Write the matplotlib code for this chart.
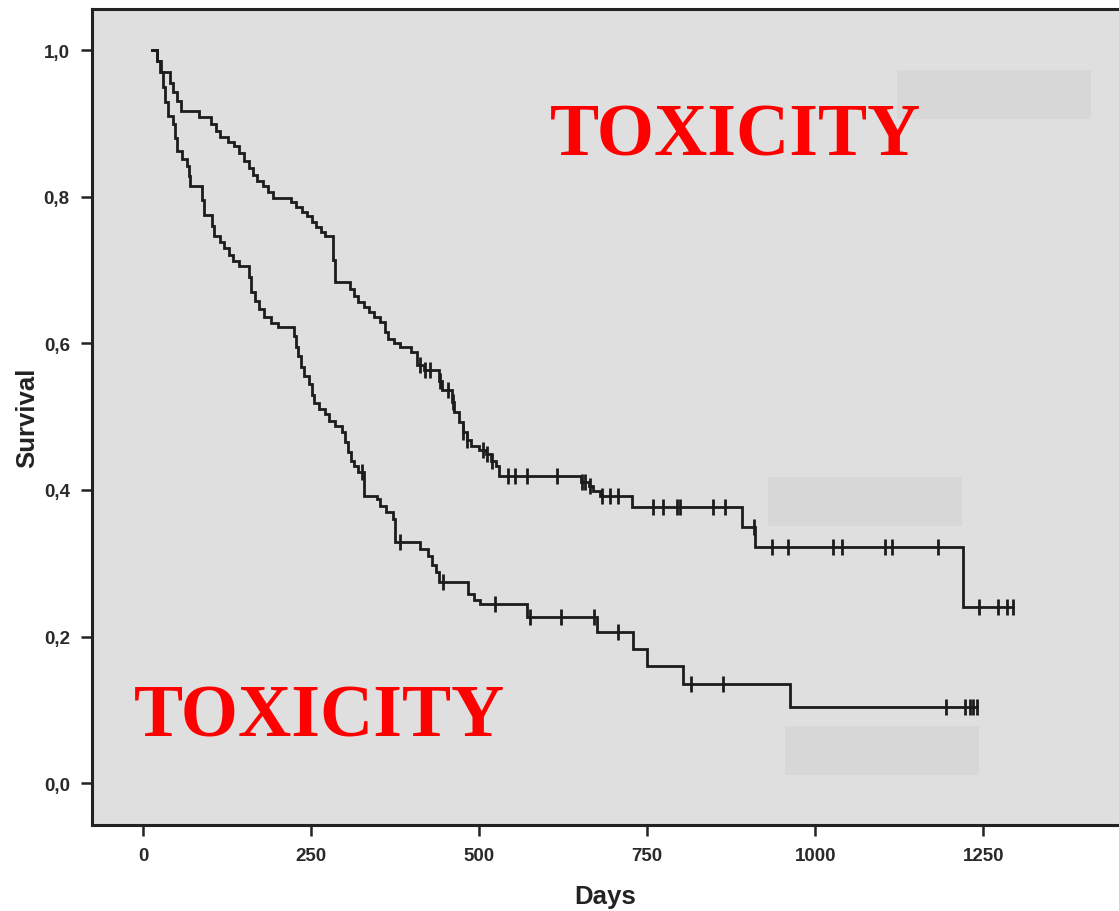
import numpy as np
import matplotlib
matplotlib.use("Agg")
import matplotlib.pyplot as plt
from matplotlib.patches import Rectangle
from matplotlib.ticker import FuncFormatter

# Kaplan-Meier estimates, upper group: day of each drop and survival after it
upper_start = 14
upper_end = 1295
upper_days = [20, 26, 40, 45, 50, 56, 83, 101, 108, 115, 126, 135, 142, 150, 157, 163,
              170, 178, 186, 194, 220, 228, 236, 244, 251, 258, 264, 270, 283, 286,
              308, 314, 320, 328, 336, 344, 352, 360, 364, 373, 382, 398, 408, 418,
              440, 445, 460, 463, 470, 476, 482, 488, 500, 510, 518, 525, 530, 652,
              663, 670, 680, 728, 891, 911, 1220]
upper_surv = [0.985, 0.970, 0.955, 0.943, 0.930, 0.917, 0.909, 0.899, 0.890, 0.881,
              0.875, 0.869, 0.859, 0.849, 0.839, 0.830, 0.822, 0.814, 0.806, 0.798,
              0.793, 0.786, 0.779, 0.773, 0.766, 0.759, 0.752, 0.746, 0.713, 0.683,
              0.674, 0.665, 0.657, 0.650, 0.643, 0.636, 0.629, 0.615, 0.606, 0.600,
              0.595, 0.588, 0.570, 0.563, 0.548, 0.536, 0.520, 0.506, 0.492, 0.479,
              0.468, 0.460, 0.455, 0.449, 0.440, 0.432, 0.419, 0.411, 0.405, 0.399,
              0.392, 0.377, 0.349, 0.322, 0.240]
upper_censored = [412, 420, 427, 442, 454, 461, 476, 482, 506, 512, 519, 543, 554, 571,
                  616, 653, 658, 665, 683, 695, 707, 759, 774, 795, 799, 848, 866, 909,
                  936, 960, 1027, 1040, 1104, 1115, 1182, 1243, 1272, 1286, 1295]

# lower group
lower_start = 14
lower_end = 1241
lower_days = [20, 25, 30, 33, 37, 45, 48, 51, 58, 65, 68, 70, 87, 90, 102, 106, 115,
              121, 128, 134, 142, 158, 161, 166, 172, 180, 190, 200, 224, 227, 230,
              235, 240, 247, 251, 255, 262, 270, 277, 285, 296, 300, 305, 310, 314,
              320, 329, 348, 353, 362, 372, 375, 412, 424, 430, 436, 440, 484, 492,
              501, 571, 676, 729, 750, 804, 963]
lower_surv = [0.985, 0.970, 0.950, 0.929, 0.910, 0.899, 0.880, 0.862, 0.852, 0.842,
              0.828, 0.814, 0.795, 0.775, 0.760, 0.746, 0.738, 0.730, 0.720, 0.712,
              0.705, 0.690, 0.670, 0.658, 0.647, 0.636, 0.628, 0.622, 0.610, 0.595,
              0.583, 0.568, 0.556, 0.544, 0.530, 0.518, 0.510, 0.503, 0.494, 0.487,
              0.479, 0.466, 0.452, 0.440, 0.432, 0.425, 0.392, 0.387, 0.378, 0.370,
              0.360, 0.329, 0.320, 0.310, 0.298, 0.288, 0.274, 0.258, 0.250, 0.244,
              0.227, 0.206, 0.183, 0.160, 0.136, 0.104]
lower_censored = [325, 382, 446, 524, 576, 622, 671, 707, 815, 863, 1195, 1223, 1231,
                  1235, 1241]

x_ticks = [0, 250, 500, 750, 1000, 1250]
y_ticks = [0.0, 0.2, 0.4, 0.6, 0.8, 1.0]
label_text = "TOXICITY"

LINE = "#1c1c1c"
BG = "#dfdfdf"


def step_curve(start, end, days, surv):
    xs = np.array([start] + days + [end], dtype=float)
    ys = np.array([1.0] + surv + [surv[-1]], dtype=float)
    return xs, ys


def value_at(xs, ys, t):
    idx = np.searchsorted(xs, t, side="right") - 1
    return ys[np.clip(idx, 0, len(ys) - 1)]


fig = plt.figure(figsize=(11.19, 9.12), dpi=100)
ax = fig.add_axes([92 / 1119, 86 / 912, 1.0 - 92 / 1119, 816 / 912])
ax.set_facecolor(BG)

for start, end, days, surv, cens in [
    (upper_start, upper_end, upper_days, upper_surv, upper_censored),
    (lower_start, lower_end, lower_days, lower_surv, lower_censored),
]:
    xs, ys = step_curve(start, end, days, surv)
    ax.plot(xs, ys, drawstyle="steps-post", color=LINE, lw=2.0, solid_joinstyle="miter")
    cens = np.array(cens, dtype=float)
    ax.plot(cens, value_at(xs, ys, cens), ls="none", marker="|", ms=11,
            mew=2.0, color=LINE)

# faint boxes in the plot area
for bx, by in [(0.784, 0.865), (0.658, 0.366), (0.675, 0.061)]:
    ax.add_patch(Rectangle((bx, by), 0.189, 0.060, transform=ax.transAxes,
                           facecolor="#d7d7d7", edgecolor="none", zorder=0.5))

ax.set_xlim(-76, 1452)
ax.set_ylim(-0.057, 1.056)
ax.set_xticks(x_ticks)
ax.set_yticks(y_ticks)
ax.yaxis.set_major_formatter(FuncFormatter(lambda v, p: f"{v:.1f}".replace(".", ",")))

for side in ["left", "top", "bottom"]:
    ax.spines[side].set_linewidth(2.2)
    ax.spines[side].set_color("#222222")
ax.spines["right"].set_visible(False)

ax.tick_params(axis="both", direction="out", length=8, width=1.8, color="#222222",
               pad=8, labelsize=13.5)
for lab in ax.get_xticklabels() + ax.get_yticklabels():
    lab.set_fontfamily("Liberation Sans")
    lab.set_fontweight("bold")
    lab.set_color("#2a2a2a")

ax.set_xlabel("Days", fontsize=18.5, fontweight="bold", family="Liberation Sans",
              color="#222222", labelpad=14)
ax.set_ylabel("Survival", fontsize=18.5, fontweight="bold", family="Liberation Sans",
              color="#222222", labelpad=3)

ax.text(882, 0.857, label_text, color="#ff0000", fontsize=53, fontweight="bold",
        family="Liberation Serif", ha="center", va="baseline")
ax.text(263, 0.065, label_text, color="#ff0000", fontsize=53, fontweight="bold",
        family="Liberation Serif", ha="center", va="baseline")

fig.savefig("out.png", dpi=100, facecolor="white")
